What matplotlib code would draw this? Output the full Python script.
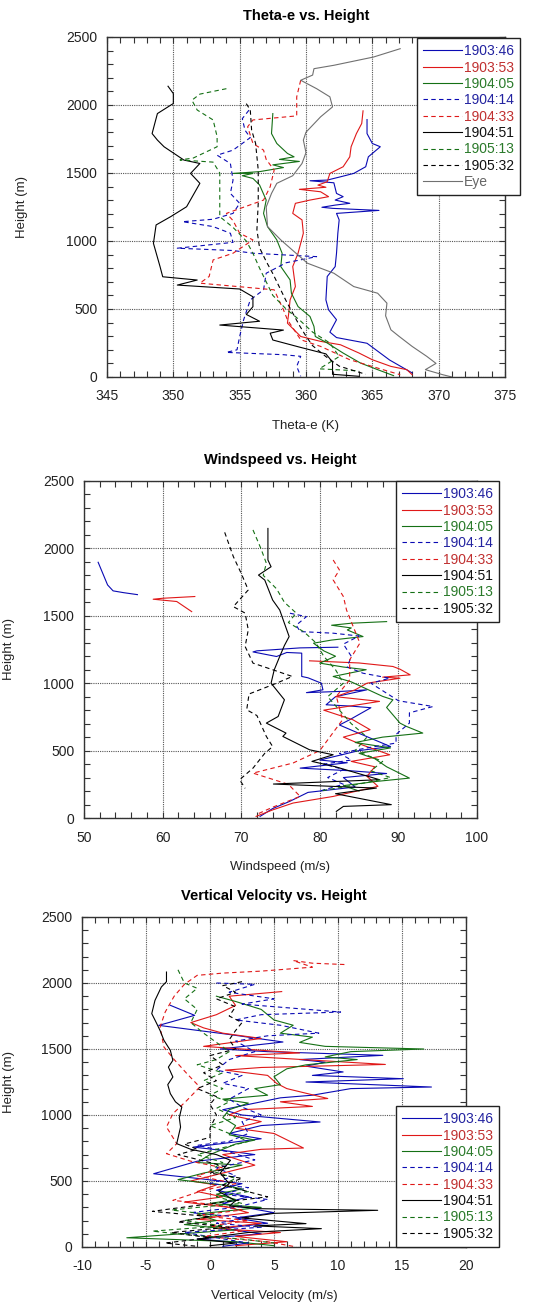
import numpy as np
import matplotlib
matplotlib.use('Agg')
import matplotlib.pyplot as plt
from matplotlib.ticker import MultipleLocator

plt.rcParams['font.family'] = ['Liberation Sans', 'DejaVu Sans']
plt.rcParams['axes.unicode_minus'] = False

nan = float('nan')

names = ['1903:46', '1903:53', '1904:05', '1904:14', '1904:33', '1904:51', '1905:13', '1905:32', 'Eye']
colors = ['#0a0ab4', '#e01818', '#157015', '#0a0ab4', '#e01818', '#000000', '#157015', '#000000', '#707070']
text_colors = ['#2323a0', '#c03030', '#2a7a2a', '#2323a0', '#c03030', '#111111', '#2a7a2a', '#111111', '#666666']
dashed = [False, False, False, True, True, False, True, True, False]

# ---- theta-e (K) vs height (m)
te46_x = [364.6, 364.6, 365.0, 365.6, 364.7, 364.5, 363.6, 362.6, 361.6, 360.3, 362.1, 362.3, 362.8, 362.2, 363.3,
          362.2, 361.2, 362.0, 365.5, 362.3, 362.5, 362.4, 362.3, 362.2, 361.6, 361.5, 361.7, 362.3, 361.8, 362.3,
          364.6, 366.3, 368.0]
te46_h = [1893, 1790, 1717, 1693, 1619, 1546, 1497, 1472, 1448, 1443, 1428, 1350, 1326, 1301, 1277,
          1264, 1248, 1240, 1225, 1203, 1155, 1057, 910, 812, 739, 567, 494, 421, 330, 290,
          248, 125, 30]
te53_x = [364.3, 364.2, 363.8, 363.4, 363.3, 362.8, 361.8, 361.6, 360.9, 361.5, 359.5, 361.1, 361.7, 360.3, 359.2,
          359.0, 359.7, 359.8, 359.4, 359.0, 359.2, 358.8, 358.7, 358.6, 359.1, 359.6, 361.1, 362.6, 364.0, 365.0,
          366.4, 367.6, 368.0]
te53_h = [1957, 1864, 1790, 1693, 1619, 1546, 1497, 1436, 1411, 1395, 1380, 1362, 1326, 1301, 1277,
          1203, 1155, 1057, 910, 812, 665, 567, 470, 396, 347, 298, 262, 237, 176, 127,
          78, 54, 17]
te05_x = [357.5, 357.4, 357.8, 358.6, 359.1, 358.0, 359.5, 357.5, 358.3, 356.5, 354.5, 356.0, 355.2, 356.0, 356.5,
          357.0, 356.8, 357.1, 357.8, 358.2, 358.1, 358.8, 358.9, 359.4, 360.3, 360.6, 360.7, 361.6, 362.8, 364.1,
          365.4, 366.6]
te05_h = [1937, 1790, 1717, 1644, 1619, 1600, 1585, 1560, 1540, 1510, 1497, 1497, 1480, 1460, 1412,
          1301, 1203, 1106, 1008, 910, 812, 714, 616, 518, 445, 372, 298, 250, 176, 103,
          54, 10]
te14_x = [355.7, 355.2, 355.4, 355.8, 354.5, 353.3, 354.3, 354.5, 354.3, 355.0, 354.5, 353.0, 350.7, 353.0, 354.3,
          354.5, 350.3, 354.5, 356.0, 360.8, 358.5, 357.0, 356.8, 355.8, 355.3, 355.0, 354.8, 354.0, 358.3, 359.6,
          359.3, 359.6]
te14_h = [1962, 1900, 1815, 1760, 1668, 1631, 1570, 1448, 1350, 1277, 1203, 1160, 1142, 1106, 1057,
          990, 947, 930, 910, 885, 840, 763, 641, 567, 421, 298, 200, 181, 164, 152,
          78, 5]
te33_x = [359.6, 359.3, 359.3, 356.0, 355.6, 356.0, 356.8, 357.0, 357.6, 357.3, 356.8, 354.0, 354.5, 355.0, 356.0,
          354.5, 353.0, 352.7, 352.0, 357.6, 358.3, 358.6, 359.6, 361.1, 363.3, 365.8, 367.1]
te33_h = [2182, 2060, 1920, 1890, 1840, 1717, 1668, 1600, 1521, 1399, 1301, 1203, 1150, 1057, 1008,
          910, 861, 739, 690, 641, 494, 421, 274, 225, 127, 54, 17]
te51_x = [349.6, 350.0, 350.0, 348.8, 348.6, 348.4, 348.8, 349.3, 350.8, 352.0, 351.3, 352.0, 351.0, 349.8, 348.7,
          348.5, 349.0, 349.2, 351.8, 350.3, 355.0, 356.0, 356.0, 355.5, 356.5, 353.5, 358.3, 357.3, 357.5, 359.5,
          361.5, 362.0, 362.0, 364.0]
te51_h = [2138, 2084, 2011, 1937, 1864, 1790, 1742, 1693, 1595, 1570, 1497, 1424, 1252, 1179, 1118,
          983, 811, 737, 713, 676, 647, 590, 517, 460, 410, 382, 345, 322, 272, 220,
          170, 110, 20, 5]
te13_x = [354.0, 352.0, 351.4, 351.8, 353.0, 353.3, 353.3, 351.5, 350.5, 353.0, 353.5, 353.5, 353.5, 354.5, 355.5,
          356.0, 356.5, 357.0, 357.5, 358.5, 359.5, 360.5, 361.8, 362.5, 361.0, 364.0]
te13_h = [2120, 2080, 2035, 1963, 1890, 1767, 1693, 1610, 1596, 1580, 1500, 1400, 1179, 1100, 1000,
          910, 800, 700, 600, 500, 420, 330, 250, 150, 60, 45]
te32_x = [355.5, 355.8, 355.9, 356.2, 356.4, 356.4, 356.4, 356.3, 356.5, 357.0, 357.5, 358.0, 358.5, 359.0, 359.5,
          360.0, 360.5, 361.5, 362.5, 364.5]
te32_h = [2010, 1963, 1816, 1718, 1522, 1425, 1279, 1083, 950, 850, 760, 660, 560, 470, 380,
          300, 230, 150, 80, 20]
teeye_x = [367.1, 365.1, 362.1, 360.6, 360.5, 359.6, 360.8, 361.8, 362.0, 361.1, 360.0, 359.8, 360.0, 359.7, 359.0,
           357.8, 357.4, 357.0, 357.1, 358.1, 360.1, 362.1, 363.6, 365.4, 366.1, 366.0, 366.4, 367.0, 368.0, 369.1,
           369.8, 369.0, 370.3, 371.0]
teeye_h = [2414, 2353, 2292, 2267, 2220, 2182, 2120, 2060, 1986, 1913, 1800, 1742, 1650, 1570, 1480,
           1424, 1350, 1250, 1106, 1008, 837, 763, 665, 616, 543, 450, 347, 300, 225, 152,
           100, 54, 17, 0]

# ---- windspeed (m/s) vs height (m)
ws46_x = [51.8, 53.0, 53.7, 55.0, 56.8, nan,
          82.3, 77.5, 72.0, 71.5, 74.5, 75.8, 77.7, 77.7, 78.5, 80.2, 80.4, 78.3, 83.0, 86.0, 82.0, 80.8, 84.0, 86.5,
          83.8, 82.5, 84.5, 89.0, 85.0, 80.0, 83.5, 77.5, 84.0, 88.5, 83.0, 84.5, 78.5, 76.2, 74.0, 72.4]
ws46_h = [1897, 1729, 1685, 1672, 1657, nan,
          1267, 1262, 1240, 1232, 1198, 1228, 1223, 1050, 1040, 1000, 951, 930, 940, 951, 900, 840, 830, 818,
          729, 690, 640, 530, 500, 430, 410, 370, 350, 330, 300, 230, 190, 124, 70, 12]
ws53_x = [64.1, 60.0, 58.8, 61.8, 63.7, nan,
          78.7, 85.0, 89.3, 90.2, 91.5, 88.0, 90.2, 86.0, 84.5, 82.0, 87.6, 80.5, 84.2, 86.4, 83.0, 85.5, 88.9,
          84.0, 87.0, 86.0, 87.4, 81.7, 76.6, 74.0, 71.9]
ws53_h = [1643, 1630, 1623, 1606, 1531, nan,
          1166, 1150, 1124, 1104, 1062, 1045, 1037, 1000, 951, 900, 865, 800, 729, 655, 600, 540, 469,
          420, 380, 309, 235, 160, 111, 60, 12]
ws05_x = [88.5, 84.0, 81.5, 84.0, 83.5, 85.5, 81.5, 79.2, 80.5, 82.0, 80.0, 83.0, 85.9, 81.7, 84.0, 88.0, 89.3,
          88.5, 90.2, 91.0, 93.1, 88.0, 84.5, 89.0, 85.0, 87.0, 88.5, 91.4, 87.0, 83.0, 85.0]
ws05_h = [1457, 1445, 1430, 1410, 1395, 1346, 1320, 1297, 1240, 1200, 1149, 1120, 1100, 1050, 1010, 902, 877,
          820, 704, 680, 630, 600, 560, 520, 480, 440, 380, 296, 270, 240, 200]
ws14_x = [76.2, 78.3, 77.0, 77.5, 81.7, 85.0, 83.0, 84.0, 83.5, 85.5, 88.9, 86.5, 90.0, 94.4, 91.4, 91.4, 89.7,
          89.7, 86.0, 82.5, 84.0, 80.5, 83.0, 81.0, 83.0, 80.0]
ws14_h = [1519, 1494, 1430, 1383, 1371, 1350, 1290, 1200, 1120, 1074, 1037, 1000, 870, 827, 780, 704, 620,
          556, 520, 480, 430, 400, 360, 300, 250, 200]
ws33_x = [81.7, 82.5, 81.7, 83.0, 83.4, 85.1, 83.8, 83.8, 82.1, 82.9, 80.0, 76.6, 73.2, 71.5, 76.0, 77.5,
          74.0, 71.9]
ws33_h = [1914, 1840, 1766, 1643, 1543, 1297, 1173, 1025, 902, 729, 500, 408, 358, 333, 250, 160,
          80, 25]
ws51_x = [73.4, 73.4, 73.8, 72.2, 73.0, 74.0, 74.9, 75.5, 76.1, 75.5, 74.9, 74.2, 73.8, 75.5, 74.7, 73.2,
          75.7, 75.3, 78.7, 81.7, 79.0, 82.0, 87.6, 74.1, 87.2, 82.0, 89.1, 83.0, 82.1]
ws51_h = [2148, 1914, 1864, 1802, 1765, 1617, 1543, 1444, 1346, 1280, 1198, 1099, 1000, 877, 753, 704,
          630, 605, 506, 469, 420, 380, 284, 252, 222, 180, 99, 86, 49]
ws13_x = [71.5, 72.5, 73.2, 72.8, 74.5, 75.5, 77.0, 76.0, 78.0, 79.5, 80.5, 82.0, 83.0, 81.0, 82.5, 84.0,
          86.0, 84.5, 88.0, 86.5, 89.0, 84.0, 80.0]
ws13_h = [2137, 2000, 1890, 1800, 1700, 1600, 1520, 1450, 1380, 1300, 1200, 1100, 1000, 900, 800, 700,
          600, 500, 420, 350, 300, 240, 200]
ws32_x = [67.9, 69.0, 70.0, 70.9, 69.0, 70.5, 70.9, 70.5, 71.5, 74.0, 76.5, 74.5, 71.0, 70.7, 72.0, 73.2,
          74.0, 73.0, 71.5, 69.8, 70.5]
ws32_h = [2119, 1939, 1815, 1692, 1568, 1520, 1396, 1272, 1149, 1100, 1050, 1000, 920, 803, 760, 605,
          530, 480, 370, 284, 220]

# ---- vertical velocity (m/s) vs height (m)
vv46_x = [-3.1, -1.2, -4.0, 1.5, 5.7, 0.8, 4.5, 13.5, 7.0, 9.0, 7.5, 10.4, 8.0, 15.1, 7.5, 17.3, 11.0, 8.0, 5.5,
          3.0, 1.0, 2.5, 8.6, 4.0, 1.5, 4.0, -1.3, 2.0, 3.5, -1.0, -4.4, -1.0, 2.5, 0.5, 3.0, 1.0, 5.0, 2.0, 4.5,
          1.0, 4.0, -1.0, 3.0, 1.0]
vv46_h = [1831, 1755, 1679, 1610, 1553, 1500, 1480, 1452, 1420, 1400, 1370, 1326, 1300, 1275, 1250, 1212, 1200,
          1150, 1130, 1080, 1040, 1000, 947, 920, 860, 820, 757, 720, 700, 650, 555, 520, 480, 430, 380, 330, 260,
          220, 180, 140, 100, 60, 30, 5]
vv53_x = [5.6, 1.5, 2.0, 0.5, -1.5, -0.5, 1.0, 4.0, -0.5, 7.0, 2.0, 13.7, 4.0, 1.2, 4.5, 5.2, 6.0, 9.2, 5.5, 8.0,
          2.5, 1.5, 4.0, 2.0, 5.0, 7.3, 4.0, 1.0, 3.5, 1.0, -1.5, 0.5, -1.0, 1.0, -2.0, 1.5, 3.0, -1.0, 4.0, 0.5,
          5.5, 2.0, 6.0, 2.0]
vv53_h = [1935, 1900, 1830, 1760, 1700, 1660, 1620, 1580, 1520, 1470, 1450, 1383, 1360, 1340, 1300, 1240, 1200,
          1125, 1100, 1065, 1040, 1000, 950, 900, 860, 750, 740, 700, 620, 560, 500, 470, 420, 380, 340, 300, 260,
          210, 180, 140, 110, 80, 40, 10]
vv05_x = [0.5, 2.0, 4.0, 5.0, 6.5, 5.5, 8.0, 7.0, 9.0, 16.7, 11.0, 9.0, 11.5, 7.5, 6.0, 5.0, 5.5, 3.5, 4.5, 1.0,
          3.0, 1.5, 1.0, 2.0, 1.5, 3.5, 2.0, 0.0, -1.0, 2.5, -0.5, -2.5, 1.0, 2.5, 0.5, 2.0, 0.0, 4.0, -1.0, 0.5,
          -2.0, 2.0, -6.5, 2.0, 5.0]
vv05_h = [1900, 1860, 1800, 1720, 1680, 1620, 1590, 1550, 1520, 1500, 1480, 1440, 1420, 1380, 1350, 1290, 1230,
          1200, 1150, 1120, 1090, 1040, 980, 920, 850, 810, 780, 700, 640, 620, 560, 510, 470, 440, 400, 360, 330,
          300, 250, 200, 170, 130, 70, 40, 10]
vv14_x = [0.5, 3.5, 1.5, 5.0, 2.5, 10.2, 4.0, 2.0, 5.5, 8.5, 4.5, 2.0, 3.5, 1.5, 0.5, 2.5, 1.0, 3.0, 1.5, 2.5,
          4.0, 2.5, 3.0, 1.5, -1.0, 1.5, 3.5, 0.5, 2.0, 0.0, 3.0, 1.0, 4.5, 2.0, -1.5, 3.0, 0.5, 4.0, -2.0, 0.5, 3.0]
vv14_h = [2000, 1990, 1930, 1880, 1840, 1780, 1760, 1720, 1680, 1620, 1600, 1560, 1480, 1420, 1340, 1300, 1240,
          1200, 1120, 1060, 1000, 950, 860, 800, 770, 720, 660, 600, 540, 480, 450, 400, 360, 300, 260, 220, 180,
          150, 110, 70, 30]
vv33_x = [10.5, 8.0, 6.5, 8.0, 4.0, 1.0, -1.0, -2.0, -2.8, -3.5, -3.9, -3.6, -2.8, -1.8, -0.8, -1.8, -2.9, -3.4,
          -2.6, -3.4, -1.5, 1.0, -1.0, 2.0, -0.5, -2.9, 0.5, 2.5, -1.0, 3.0, 0.0, 2.5, -0.5, 4.5, 6.5]
vv33_h = [2140, 2150, 2170, 2120, 2090, 2075, 2058, 1990, 1900, 1780, 1666, 1515, 1420, 1313, 1212, 1111, 1010, 909,
          783, 707, 650, 600, 540, 480, 430, 353, 320, 280, 240, 200, 160, 120, 80, 40, 5]
vv51_x = [-3.4, -3.4, -3.8, -4.3, -4.55, -4.2, -3.9, -3.6, -3.1, -2.9, -3.25, -2.9, -3.3, -3.1, -2.7, -2.2, -2.4,
          -2.3, -2.6, -1.5, 0.5, 1.6, 0.8, 1.5, 0.7, 2.0, 1.5, 4.0, 13.1, 5.0, 2.5, 7.5, 3.5, 8.7, 3.0, -1.0, 2.0,
          0.0]
vv51_h = [2083, 2010, 1970, 1868, 1768, 1700, 1640, 1566, 1490, 1414, 1363, 1288, 1230, 1162, 1100, 1061, 980,
          909, 783, 740, 700, 657, 560, 480, 420, 350, 310, 290, 278, 255, 220, 177, 160, 139, 110, 60, 30,
          10]
vv13_x = [-2.5, -2.0, -1.0, -2.0, -1.0, -1.5, -0.5, 0.5, 1.5, 0.5, -1.0, 1.0, -0.5, 1.0, 0.0, 1.5, 0.5, 2.0, 0.0,
          1.5, 3.0, 0.5, -1.0, 1.0, 0.0, 2.0, 1.0, 3.0, 0.5, 2.5, -1.0, -3.0, 0.5, -2.0, 1.0, -4.5, -1.5, 2.5, 5.0]
vv13_h = [2100, 2000, 1960, 1880, 1800, 1700, 1620, 1550, 1480, 1420, 1380, 1320, 1260, 1200, 1150, 1100, 1050,
          980, 920, 860, 800, 740, 700, 640, 580, 520, 470, 420, 380, 330, 300, 280, 240, 200, 160, 120, 90, 60, 30]
vv32_x = [2.5, 1.0, 2.0, 0.5, 2.0, 1.5, 2.5, 2.0, 1.5, 2.0, 0.0, 1.0, -0.5, 0.5, -1.0, 0.5, 0.0, 0.5, 0.0, 0.0,
          -2.0, -1.0, -2.5, 0.0, 1.5, 0.0, 2.5, 1.0, 4.5, 1.0, -3.0, -4.5, 0.0, -2.5, 1.5, -3.0, 0.0, -3.5, -1.0]
vv32_h = [2010, 1980, 1930, 1880, 1820, 1750, 1700, 1640, 1570, 1500, 1450, 1380, 1320, 1260, 1200, 1140, 1080,
          1000, 900, 830, 780, 740, 700, 640, 600, 560, 520, 470, 380, 340, 290, 270, 230, 190, 150, 110, 70, 30, 5]

theta_series = [(te46_x, te46_h), (te53_x, te53_h), (te05_x, te05_h), (te14_x, te14_h), (te33_x, te33_h),
                (te51_x, te51_h), (te13_x, te13_h), (te32_x, te32_h), (teeye_x, teeye_h)]
wind_series = [(ws46_x, ws46_h), (ws53_x, ws53_h), (ws05_x, ws05_h), (ws14_x, ws14_h), (ws33_x, ws33_h),
               (ws51_x, ws51_h), (ws13_x, ws13_h), (ws32_x, ws32_h)]
vert_series = [(vv46_x, vv46_h), (vv53_x, vv53_h), (vv05_x, vv05_h), (vv14_x, vv14_h), (vv33_x, vv33_h),
               (vv51_x, vv51_h), (vv13_x, vv13_h), (vv32_x, vv32_h)]

W, H = 536, 1303
fig = plt.figure(figsize=(W / 100, H / 100), dpi=100)


def px_axes(l, t, r, b):
    return fig.add_axes([l / W, 1 - b / H, (r - l) / W, (b - t) / H])


def draw(ax, series, title, xlabel, xlim, xmaj, xmin, leg_loc, leg_anchor):
    for i, (x, h) in enumerate(series):
        ls = (0, (4, 3)) if dashed[i] else '-'
        ax.plot(x, h, color=colors[i], lw=0.8, ls=ls, label=names[i])
    ax.set_xlim(*xlim)
    ax.set_ylim(0, 2500)
    ax.xaxis.set_major_locator(MultipleLocator(xmaj))
    ax.xaxis.set_minor_locator(MultipleLocator(xmin))
    ax.yaxis.set_major_locator(MultipleLocator(500))
    ax.yaxis.set_minor_locator(MultipleLocator(100))
    ax.tick_params(which='both', direction='in', top=True, right=True, length=4, width=0.8, colors='#333333')
    ax.tick_params(axis='x', which='major', pad=9, labelsize=10, labelcolor='#222222')
    ax.tick_params(axis='y', which='major', pad=7, labelsize=10, labelcolor='#222222')
    ax.grid(True, which='major', color='#555555', ls=(0, (1, 1)), lw=0.8)
    for s in ax.spines.values():
        s.set_color('#333333')
        s.set_linewidth(1.0)
    ax.set_title(title, fontsize=10.5, fontweight='bold', pad=12)
    ax.set_xlabel(xlabel, fontsize=9.5, labelpad=12, color='#222222')
    ax.set_ylabel('Height (m)', fontsize=9.5, color='#222222')
    leg = ax.legend(loc=leg_loc, bbox_to_anchor=leg_anchor, borderaxespad=0, fontsize=10,
                    handlelength=2.8, handletextpad=0.1, labelspacing=0.17, borderpad=0.45,
                    fancybox=False, framealpha=1, edgecolor='#222222')
    leg.get_frame().set_linewidth(1.0)
    for i, t in enumerate(leg.get_texts()):
        t.set_color(text_colors[i])
    return ax


ax1 = px_axes(107, 37, 505, 377)
draw(ax1, theta_series, 'Theta-e vs. Height', 'Theta-e (K)', (345, 375), 5, 1, 'upper right', (1.038, 0.997))
ax1.yaxis.set_label_coords(-0.198, 0.5)

ax2 = px_axes(84, 481, 477, 818)
draw(ax2, wind_series, 'Windspeed vs. Height', 'Windspeed (m/s)', (50, 100), 10, 2, 'upper right', (1.056, 1.0))
ax2.yaxis.set_label_coords(-0.176, 0.5)

ax3 = px_axes(82, 917, 466, 1247)
draw(ax3, vert_series, 'Vertical Velocity vs. Height', 'Vertical Velocity (m/s)', (-10, 20), 5, 1, 'lower right',
     (1.086, 0.0))
ax3.yaxis.set_label_coords(-0.175, 0.5)

fig.savefig('out.png', dpi=100)
